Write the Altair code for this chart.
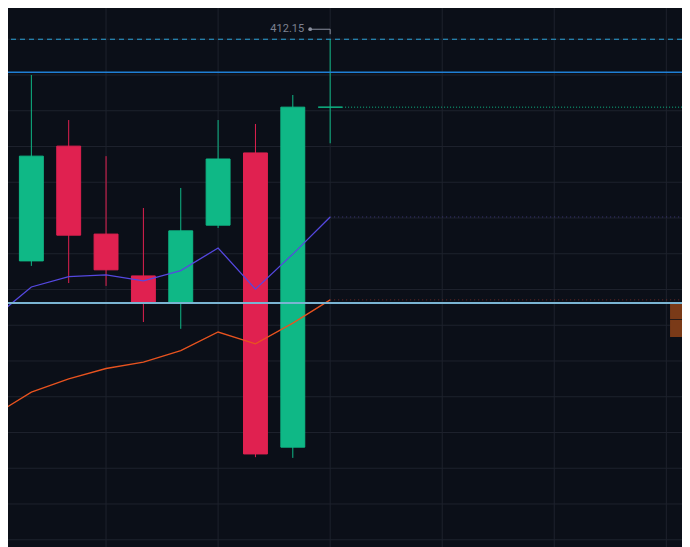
import altair as alt
import pandas as pd

# ---- data ----
idx = [0, 1, 2, 3, 4, 5, 6, 7, 8, 9]
opens = [403.82, 405.95, 409.16, 406.70, 405.53, 404.79, 406.95, 408.97, 400.74, 410.25]
closes = [405.81, 408.88, 406.67, 405.70, 404.79, 406.79, 408.80, 400.55, 410.25, 410.25]
highs = [406.30, 411.15, 409.89, 408.88, 407.43, 407.99, 409.89, 409.78, 410.59, 412.15]
lows = [403.50, 405.81, 405.33, 405.25, 404.24, 404.05, 406.87, 400.46, 400.44, 409.24]

fast_ma = [404.35, 405.22, 405.51, 405.56, 405.39, 405.68, 406.31, 405.16, 406.14, 407.18]
slow_ma = [401.64, 402.28, 402.65, 402.94, 403.12, 403.44, 403.96, 403.63, 404.21, 404.86]

level_top = 413.18
level_dashed = 412.15
level_blue = 411.23
level_light = 404.77

profile_lo = [403.82, 404.32]
profile_hi = [404.30, 404.75]
profile_start = [18.1, 18.1]
profile_end = [19.0, 19.0]

grid_x = [3, 6, 9, 12, 15, 18]
grid_y = [413.15, 412.15, 411.15, 410.15, 409.15, 408.15, 407.15, 406.15,
          405.15, 404.15, 403.15, 402.15, 401.15, 400.15, 399.15, 398.15]

BG = "#0b0f18"
GRID = "#1e222d"
UP = "#0fb886"
DOWN = "#e02150"

candles = pd.DataFrame({"i": idx, "open": opens, "close": closes, "high": highs, "low": lows})
candles["dir"] = ["up" if c >= o else "down" for o, c in zip(opens, closes)]
mas = pd.DataFrame({"i": idx, "fast": fast_ma, "slow": slow_ma})
last = candles.tail(1).copy()
last["fast"] = fast_ma[-1]
last["slow"] = slow_ma[-1]
profile = pd.DataFrame({"x1": profile_start, "x2": profile_end, "lo": profile_lo, "hi": profile_hi})

xs = alt.Scale(domain=[0.3748, 18.42], nice=False, zero=False)
ys = alt.Scale(domain=[397.947, 413.024], nice=False, zero=False)
color = alt.Color("dir:N", scale=alt.Scale(domain=["up", "down"], range=[UP, DOWN]), legend=None)

gx = alt.Chart(pd.DataFrame({"g": grid_x})).mark_rule(color=GRID, strokeWidth=1).encode(
    x=alt.X("g:Q", scale=xs, axis=None))
gy = alt.Chart(pd.DataFrame({"g": grid_y})).mark_rule(color=GRID, strokeWidth=1).encode(
    y=alt.Y("g:Q", scale=ys, axis=None))

base = alt.Chart(candles)

wicks = base.mark_rule(strokeWidth=1, clip=True).encode(
    x=alt.X("i:Q", scale=xs, axis=None),
    y=alt.Y("low:Q", scale=ys, axis=None),
    y2="high:Q",
    color=color,
)

bodies = base.transform_calculate(
    xa="datum.i - 0.32", xb="datum.i + 0.32"
).mark_bar(clip=True, strokeWidth=1).encode(
    x=alt.X("xa:Q", scale=xs, axis=None),
    x2="xb:Q",
    y=alt.Y("open:Q", scale=ys, axis=None),
    y2="close:Q",
    color=color,
    stroke=color,
)

def hline(value, col, width=1.0, dash=None, opacity=1.0):
    kw = dict(color=col, strokeWidth=width, opacity=opacity, clip=True)
    if dash:
        kw["strokeDash"] = dash
    return alt.Chart(pd.DataFrame({"v": [value]})).mark_rule(**kw).encode(
        y=alt.Y("v:Q", scale=ys, axis=None)
    )

fast_line = alt.Chart(mas).mark_line(color="#5548e0", strokeWidth=1.3, clip=True).encode(
    x=alt.X("i:Q", scale=xs, axis=None), y=alt.Y("fast:Q", scale=ys, axis=None))
slow_line = alt.Chart(mas).mark_line(color="#e8531f", strokeWidth=1.3, clip=True).encode(
    x=alt.X("i:Q", scale=xs, axis=None), y=alt.Y("slow:Q", scale=ys, axis=None))

lastb = alt.Chart(last).transform_calculate(edge="datum.i + 0.32", far="20")
close_line = lastb.mark_rule(color=UP, strokeWidth=1, strokeDash=[1, 2], clip=True).encode(
    x=alt.X("edge:Q", scale=xs, axis=None), x2="far:Q", y=alt.Y("close:Q", scale=ys, axis=None))
fast_pl = lastb.mark_rule(color="#4a4290", strokeWidth=1, strokeDash=[1, 3], opacity=0.8, clip=True).encode(
    x=alt.X("i:Q", scale=xs, axis=None), x2="far:Q", y=alt.Y("fast:Q", scale=ys, axis=None))
slow_pl = lastb.mark_rule(color="#7a2e2a", strokeWidth=1, strokeDash=[1, 3], opacity=0.9, clip=True).encode(
    x=alt.X("i:Q", scale=xs, axis=None), x2="far:Q", y=alt.Y("slow:Q", scale=ys, axis=None))

prof = alt.Chart(profile).mark_rect(color="#7a3a18", clip=True).encode(
    x=alt.X("x1:Q", scale=xs, axis=None), x2="x2:Q",
    y=alt.Y("lo:Q", scale=ys, axis=None), y2="hi:Q")

# high marker annotation on the last candle
hi_h = alt.Chart(last).mark_rule(color="#8a8f9e", strokeWidth=1, xOffset=-20, yOffset=-10, y2Offset=-10).encode(
    x=alt.X("i:Q", scale=xs, axis=None), x2="i:Q", y=alt.Y("high:Q", scale=ys, axis=None))
hi_v = alt.Chart(last).mark_rule(color="#8a8f9e", strokeWidth=1, yOffset=-10, y2Offset=-5).encode(
    x=alt.X("i:Q", scale=xs, axis=None), y=alt.Y("high:Q", scale=ys, axis=None), y2="high:Q")
hi_dot = alt.Chart(last).mark_circle(color="#8a8f9e", size=14, opacity=1, xOffset=-20, yOffset=-10).encode(
    x=alt.X("i:Q", scale=xs, axis=None), y=alt.Y("high:Q", scale=ys, axis=None))
hi_txt = alt.Chart(last).mark_text(color="#7c8191", font="Roboto", fontSize=11, align="right",
                                   baseline="middle", xOffset=-26, yOffset=-10).encode(
    x=alt.X("i:Q", scale=xs, axis=None), y=alt.Y("high:Q", scale=ys, axis=None),
    text=alt.Text("high:Q", format=".2f"))

chart = alt.layer(
    gx, gy,
    wicks, bodies, prof,
    fast_pl, slow_pl, close_line,
    fast_line, slow_line,
    hline(level_light, "#7ab4d2", 2),
    hline(level_blue, "#1f7fd4", 1.5),
    hline(level_dashed, "#2ba3d9", 1, [5, 4]),
    hline(level_top, "#7ccbf7", 3),
    hi_h, hi_v, hi_dot, hi_txt,
).properties(
    width=674, height=539, background=BG, padding=0,
    autosize=alt.AutoSizeParams(type="none"),
).configure_view(stroke=None, fill=BG)

chart.save("out.html", embed_options={"renderer": "svg", "actions": False})
